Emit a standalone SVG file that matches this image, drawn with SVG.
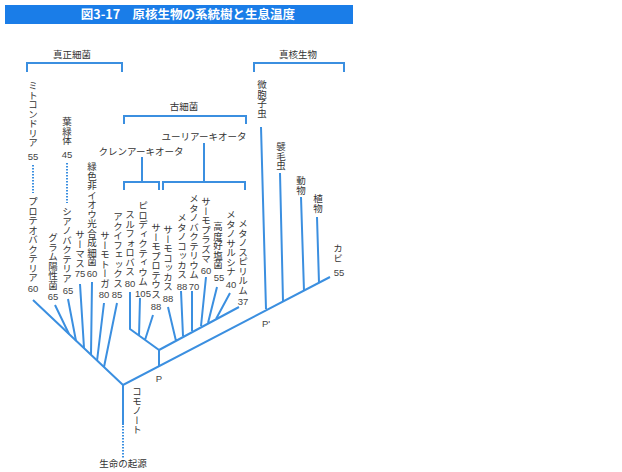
<svg xmlns="http://www.w3.org/2000/svg" width="622" height="472" viewBox="0 0 622 472">
<style>
.t{font-family:"Noto Sans CJK JP","Noto Sans",sans-serif;font-size:9.5px;fill:#333}
.v{font-family:"Noto Sans CJK JP","Noto Sans",sans-serif;font-size:9.5px;fill:#333;writing-mode:vertical-rl}
.n{font-family:"Liberation Sans","Noto Sans",sans-serif;font-size:9.5px;fill:#444;text-anchor:middle}
.c{text-anchor:middle}
.ln{fill:none;stroke:#3b8fe0;stroke-width:2;stroke-linecap:butt}
.dt{fill:none;stroke:#3b8fe0;stroke-width:2;stroke-dasharray:1.5 1.5}
</style>
<rect width="622" height="472" fill="#fff"/>
<g id="title">
<rect x="5" y="5" width="348" height="19" fill="#1a7de8"/>
<text x="188" y="19" font-family="Noto Sans CJK JP,sans-serif" font-size="12.5" font-weight="bold" fill="#fff" text-anchor="middle">図3-17　原核生物の系統樹と生息温度</text>
</g>
<g id="connectors">
<path class="ln" d="M27 72V63H122V72"/>
<path class="ln" d="M254 72V63H344V72"/>
<path class="ln" d="M124 124V116H246V124"/>
<path class="ln" d="M124 190V182H159V190M163 190V182H245V190"/>
<path class="ln" d="M142 157V182M204 143V182"/>
<path class="ln" d="M33 300L123 385L330 277"/>
<path class="ln" d="M123 385V425"/>
<path class="dt" d="M123 426V458"/>
<path class="dt" d="M33 165V193M67 163V203"/>
<path class="ln" d="M55 305L69 334M68 299L76 341M80 284L84 348M92 282L91 355M104 303L97 361M117 303L104 367"/>
<path class="ln" d="M159 366V350L130 329V292M140 298L139 336M153 315L145 340"/>
<path class="ln" d="M159 350L239 307M168 307L176 341M181 291L183 336M192 291L192 331M206 277L201 326M217 287L208 323M230 293L216 319"/>
<path class="ln" d="M261 127L266 309M280 173L283 301M301 197L304 291M317 217L319 283"/>
</g>
<g id="groups">
<text class="t c" x="72" y="58">真正細菌</text>
<text class="t c" x="298" y="58">真核生物</text>
<text class="t c" x="184" y="110">古細菌</text>
<text class="t c" x="204" y="140">ユーリアーキオータ</text>
<text class="t c" x="141" y="155">クレンアーキオータ</text>
</g>
<g id="mitochondria"><text class="v" x="33" y="81">ミトコンドリア</text><text class="n" x="33" y="160">55</text></g>
<g id="chloroplast"><text class="v" x="67" y="117">葉緑体</text><text class="n" x="67" y="158">45</text></g>
<g id="proteobacteria"><text class="v" x="33" y="197">プロテオバクテリア</text><text class="n" x="33" y="292">60</text></g>
<g id="gram-positive"><text class="v" x="53" y="233">グラム陽性菌</text><text class="n" x="53" y="300">65</text></g>
<g id="cyanobacteria"><text class="v" x="67" y="207">シアノバクテリア</text><text class="n" x="68" y="294">65</text></g>
<g id="thermus"><text class="v" x="80" y="230">サーマス</text><text class="n" x="80" y="277">75</text></g>
<g id="green-nonsulfur"><text class="v" x="92" y="162">緑色非イオウ光合成細菌</text><text class="n" x="92" y="277">60</text></g>
<g id="thermotoga"><text class="v" x="105" y="231">サーモトーガ</text><text class="n" x="104" y="298">80</text></g>
<g id="aquifex"><text class="v" x="118" y="212">アクイフェックス</text><text class="n" x="117" y="298">85</text></g>
<g id="sulfolobus"><text class="v" x="130" y="210">スルフォロバス</text><text class="n" x="130" y="287">80</text></g>
<g id="pyrodictium"><text class="v" x="143" y="201">ピロディクティウム</text><text class="n" x="143" y="297">105</text></g>
<g id="thermoproteus"><text class="v" x="156" y="223">サーモプロテウス</text><text class="n" x="156" y="310">88</text></g>
<g id="thermococcus"><text class="v" x="168" y="225">サーモコッカス</text><text class="n" x="168" y="302">88</text></g>
<g id="methanococcus"><text class="v" x="182" y="213">メタノコッカス</text><text class="n" x="182" y="290">88</text></g>
<g id="methanobacterium"><text class="v" x="194" y="194">メタノバクテリウム</text><text class="n" x="194" y="290">70</text></g>
<g id="thermoplasma"><text class="v" x="206" y="197">サーモプラズマ</text><text class="n" x="206" y="274">60</text></g>
<g id="halobacteria"><text class="v" x="218" y="222">高度好塩菌</text><text class="n" x="219" y="281">55</text></g>
<g id="methanosarcina"><text class="v" x="231" y="210">メタノサルシナ</text><text class="n" x="231" y="288">40</text></g>
<g id="methanospirillum"><text class="v" x="243" y="219">メタノスピリルム</text><text class="n" x="243" y="305">37</text></g>
<g id="microsporidia"><text class="v" x="262" y="80">微胞子虫</text></g>
<g id="ciliates"><text class="v" x="281" y="142">襞毛虫</text></g>
<g id="animals"><text class="v" x="301" y="176">動物</text></g>
<g id="plants"><text class="v" x="318" y="194">植物</text></g>
<g id="fungi"><text class="v" x="338" y="244">カビ</text><text class="n" x="339" y="276">55</text></g>
<g id="P"><text class="n" x="159" y="382" font-size="11">P</text></g>
<g id="P2"><text class="n" x="266" y="327" font-size="11">P'</text></g>
<g id="commonote"><text class="v" x="137" y="387">コモノート</text></g>
<g id="origin"><text class="t c" x="123" y="467">生命の起源</text></g>
</svg>
